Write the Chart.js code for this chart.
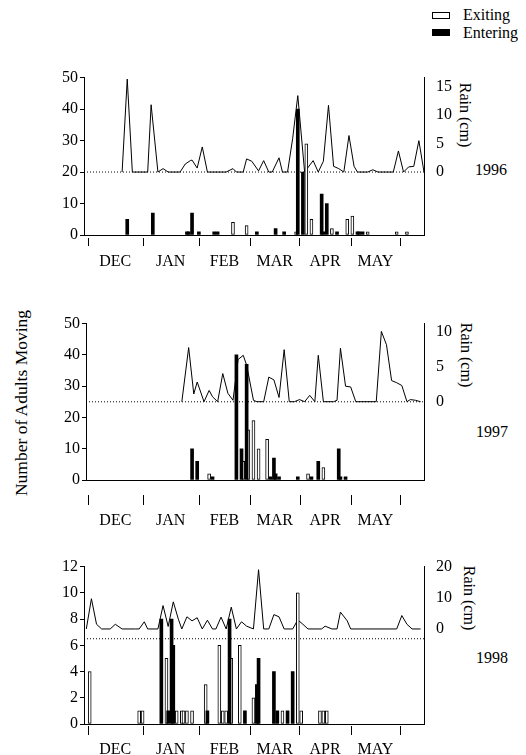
<!DOCTYPE html>
<html>
<head>
<meta charset="utf-8">
<script src="https://cdn.jsdelivr.net/npm/chart.js@4.4.1/dist/chart.umd.min.js"></script>
<style>
  html,body{margin:0;padding:0;background:#fff;}
  body{width:526px;height:755px;position:relative;overflow:hidden;font-family:"Liberation Serif","DejaVu Serif","Noto Serif",serif;color:#000;}
  canvas{position:absolute;left:0;}
  .t{position:absolute;font-size:16px;line-height:16px;white-space:nowrap;}
  .rot{position:absolute;white-space:nowrap;font-size:16px;line-height:16px;transform:translate(-50%,-50%) rotate(90deg);}
  .ytitle{position:absolute;white-space:nowrap;font-size:17.5px;line-height:18px;transform:translate(-50%,-50%) rotate(-90deg);}
  .box{position:absolute;left:432px;width:18px;height:7px;box-sizing:border-box;border:1px solid #000;}
</style>
</head>
<body>
<div class="box" style="top:12px;background:#fff"></div>
<div class="box" style="top:29px;background:#000"></div>
<div class="t" style="left:463px;top:7px">Exiting</div>
<div class="t" style="left:463px;top:25px">Entering</div>

<div class="ytitle" style="left:21px;top:403px">Number of Adults Moving</div>

<div class="rot" style="left:465px;top:115px">Rain (cm)</div>
<div class="rot" style="left:466px;top:355px">Rain (cm)</div>
<div class="rot" style="left:469px;top:598px">Rain (cm)</div>

<div class="t" style="left:475px;top:162px">1996</div>
<div class="t" style="left:476px;top:424px">1997</div>
<div class="t" style="left:476px;top:650px">1998</div>

<canvas id="c96" width="526" height="219" style="top:56px"></canvas>
<canvas id="c97" width="526" height="233" style="top:302px"></canvas>
<canvas id="c98" width="526" height="210" style="top:545px"></canvas>

<script>
// season axis: days counted from the start of December
const monthNames  = ['DEC','JAN','FEB','MAR','APR','MAY'];
const monthStarts = [0, 32, 65, 95, 124, 154, 183];

// ---- 1996 ----
const rain96Days = [20,23,26,35,37,41,44,47,54,57,60,61,64,67,70,81,85,87,91,93,96,100,103,106,108,112,114,117,120,123,127,132,135,138,141,144,147,150,153,156,158,164,167,170,179,182,185,188,191,194,197];
const rain96     = [0,16.3,0,0,11.8,0,0.6,0,0,1.4,2.0,2.1,0.7,4.4,0,0,0.6,0,0,2.3,1.9,0.2,2.0,0,0,2.5,0,0,5.9,13.4,0,2.0,0,1.9,11.7,1.0,0.6,0,6.4,1.0,0,0,0.4,0,0,3.7,0,0.9,1.0,5.5,0];
const enter96Days = [23,38,58,59,61,65,74,76,99,110,115,123,126,137,138,140,146,158,159,161];
const enter96     = [5,7,1,1,7,1,1,1,1,2,1,40,20,13,1,10,1,1,1,1];
const exit96Days  = [85,93,122,128,131,143,152,155,164,181,187];
const exit96      = [4,3,1,29,5,2,5,6,1,1,1];

// ---- 1997 ----
const rain97Days = [55,59,62,64,68,71,73,76,79,82,85,88,91,93,97,99,103,106,109,112,115,118,121,124,127,130,133,135,138,144,146,148,151,154,157,169,172,175,178,181,184,187,189,192,195];
const rain97     = [0,7.7,1.1,2.8,0,1.6,0.7,0,4.0,1.2,0.2,6.0,6.6,5.2,0.2,0,0,3.5,3.1,0.6,7.4,0,0,0.3,0,0.9,0,6.6,0,0,0.2,7.6,2.2,2.1,0,0,10.0,8.1,3.0,2.7,2.3,0,0.3,0.2,0];
const enter97Days = [61,64,73,87,90,93,107,109,110,112,123,131,135,147,148,151];
const enter97     = [10,6,1,40,10,37,1,7,2,1,1,1,6,10,1,1];
const exit97Days  = [71,91,94,97,100,105,129,138];
const exit97      = [2,6,16,19,10,13,2,4];

// ---- 1998 ----
const rain98Days = [-1,2,5,8,13,16,20,28,30,33,35,41,44,47,50,53,55,58,61,64,67,70,73,75,78,81,84,87,90,93,97,100,103,106,109,112,115,120,123,126,129,137,139,143,146,148,152,154,181,184,187,190,195];
const rain98     = [0,9.7,1.5,0,0,1.5,0,0,0,2.3,0,0,7.5,0.8,8.7,3.1,0,3.9,2.6,3.6,0,2.8,0,0,3.8,0,7.0,0,2.3,0.9,0,19.0,0,0,4.6,3.9,0,0,2.9,1.5,0,0,0.9,0,0,5.4,2.6,0,0,4.3,1.5,0,0];
const enter98Days = [43,47,49,50,70,83,92,99,100,109,111,117,120];
const enter98     = [8,1,8,6,1,8,1,3,5,4,1,1,4];
const exit98Days  = [1,30,32,46,52,55,56,58,61,69,77,79,81,84,89,97,114,123,125,136,138,140];
const exit98      = [4,1,1,5,1,1,1,1,1,3,6,1,1,5,6,2,1,10,1,1,1,1];

const xMax = 197;
const monthMids = monthStarts.slice(0,-1).map((v,i)=>(v+monthStarts[i+1])/2);
const FONT = {family:'"Liberation Serif","DejaVu Serif","Noto Serif",serif', size:16};
const pts = (xs,ys) => xs.map((x,i)=>({x, y:ys[i]}));

const monthTicks = {
  id:'monthTicks',
  afterDraw(chart, args, o){
    const {ctx, chartArea, scales:{x}} = chart;
    ctx.save(); ctx.strokeStyle='#000'; ctx.lineWidth=1;
    monthStarts.forEach(v=>{
      const px = Math.round(x.getPixelForValue(v))+0.5;
      ctx.beginPath();
      ctx.moveTo(px, chartArea.bottom+o.gap);
      ctx.lineTo(px, chartArea.bottom+o.gap+o.len);
      ctx.stroke();
    });
    ctx.restore();
  }
};

const panels = [
  {id:'c96', rainDays:rain96Days, rain:rain96, enterDays:enter96Days, enter:enter96, exitDays:exit96Days, exit:exit96,
   left:84, axisH:40, xMin:-2.35, yMax:50, yStep:10, rMin:-11.04, rMax:16.56, rTicks:[0,5,10,15], divider:20, labelPad:17, gap:3, len:8},
  {id:'c97', rainDays:rain97Days, rain:rain97, enterDays:enter97Days, enter:enter97, exitDays:exit97Days, exit:exit97,
   left:86, axisH:55, xMin:-1.2, yMax:50, yStep:10, rMin:-11.14, rMax:11.11, rTicks:[0,5,10], divider:25, labelPad:31, gap:15, len:10},
  {id:'c98', rainDays:rain98Days, rain:rain98, enterDays:enter98Days, enter:enter98, exitDays:exit98Days, exit:exit98,
   left:84, axisH:31, xMin:-2.35, yMax:12, yStep:2, rMin:-30.48, rMax:20, rTicks:[0,10,20], divider:6.5, labelPad:16, gap:2, len:9}
];

panels.forEach(p=>{
  new Chart(document.getElementById(p.id), {
    type:'bar',
    data:{datasets:[
      {type:'bar', label:'Entering', data:pts(p.enterDays,p.enter), backgroundColor:'#000', barThickness:3, grouped:false, yAxisID:'y', order:0},
      {type:'bar', label:'Exiting', data:pts(p.exitDays,p.exit), backgroundColor:'#fff', borderColor:'#000', borderWidth:1, borderSkipped:false, barThickness:3, grouped:false, yAxisID:'y', order:1},
      {type:'line', label:'Rain', data:pts(p.rainDays,p.rain), yAxisID:'yR', borderColor:'#000', borderWidth:1, pointRadius:0, tension:0, order:2},
      {type:'line', label:'zero', data:[{x:p.xMin,y:p.divider},{x:xMax,y:p.divider}], yAxisID:'y', borderColor:'#000', borderWidth:1, borderDash:[1,2], pointRadius:0, order:3}
    ]},
    options:{
      responsive:false, animation:false, events:[],
      layout:{padding:{top:20,left:0,right:0,bottom:0}},
      plugins:{legend:{display:false}, tooltip:{enabled:false}, monthTicks:{gap:p.gap, len:p.len}},
      scales:{
        x:{type:'linear', min:p.xMin, max:xMax, offset:false,
           afterBuildTicks:s=>{s.ticks=monthMids.map(v=>({value:v}));},
           afterFit:s=>{s.height=p.axisH;},
           grid:{display:false, drawTicks:false, offset:false},
           border:{display:true, color:'#000', width:1},
           ticks:{autoSkip:false, maxRotation:0, padding:p.labelPad, color:'#000', font:FONT, callback:(v,i)=>monthNames[i]}},
        y:{position:'left', min:0, max:p.yMax,
           afterFit:s=>{s.width=p.left;},
           grid:{display:true, drawOnChartArea:false, drawTicks:true, tickLength:4, color:'#000', lineWidth:1},
           border:{display:true, color:'#000', width:1},
           ticks:{stepSize:p.yStep, padding:2, color:'#000', font:FONT}},
        yR:{position:'right', min:p.rMin, max:p.rMax,
           afterBuildTicks:s=>{s.ticks=p.rTicks.map(v=>({value:v}));},
           afterFit:s=>{s.width=102;},
           grid:{display:false, drawTicks:false},
           border:{display:true, color:'#000', width:1},
           ticks:{padding:12, color:'#000', font:FONT}}
      }
    },
    plugins:[monthTicks]
  });
});
</script>
</body>
</html>
